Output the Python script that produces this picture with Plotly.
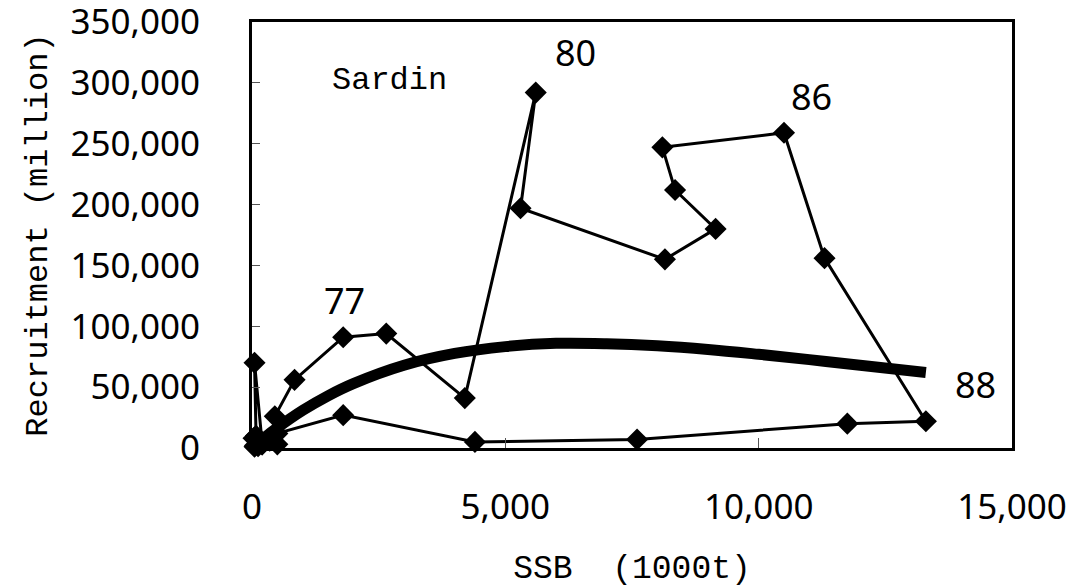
import plotly.graph_objects as go

# Stock-recruitment trajectory (SSB in 1000 t, recruitment in million)
ssb = [60, 30, 120, 200, 80, 50, 200, 350, 500, 450, 840, 1800, 2650, 4200, 5600,
       5300, 8150, 9150, 8350, 8100, 10500, 11300, 13300, 11750, 7600, 4400,
       1800, 500, 200, 50]
rec = [2000, 8000, 1500, 3000, 10000, 70000, 4000, 6000, 3000, 26000, 56000,
       91000, 94000, 41000, 292000, 197000, 155000, 180000, 212000, 247000,
       259000, 156000, 22000, 20000, 7000, 5000, 27000, 12000, 3000, 1000]

# Fitted stock-recruitment curve
curve_ssb = [0, 250, 500, 1000, 1500, 2000, 3000, 4000, 5000, 6000, 7000, 8000,
             9000, 10000, 11000, 12000, 13300]
curve_rec = [0, 8600, 16600, 30900, 42900, 52900, 68000, 77700, 83300, 86000,
             85700, 84000, 81000, 77000, 72600, 68000, 62000]

year_labels = ["77", "80", "86", "88"]
label_x = [1835, 6375, 11050, 14270]
label_y = [121600, 325300, 288400, 51800]

x_ticks = [0, 5000, 10000, 15000]
y_ticks = [0, 50000, 100000, 150000, 200000, 250000, 300000, 350000]
x_range = [0, 15000]
y_range = [0, 350000]

fig = go.Figure()
fig.add_trace(go.Scatter(x=curve_ssb, y=curve_rec, mode="lines",
                         line=dict(color="black", width=11, shape="spline"),
                         hoverinfo="skip", showlegend=False))
fig.add_trace(go.Scatter(x=ssb, y=rec, mode="lines+markers", cliponaxis=False,
                         line=dict(color="black", width=3),
                         marker=dict(symbol="diamond", size=17, color="black"),
                         showlegend=False))
# invisible trace to carry the overlay axes that draw the inner tick marks
fig.add_trace(go.Scatter(x=x_range, y=y_range, xaxis="x2", yaxis="y2", mode="markers",
                         marker=dict(opacity=0), hoverinfo="skip", showlegend=False))

for t, xx, yy in zip(year_labels, label_x, label_y):
    fig.add_annotation(x=xx, y=yy, xref="x", yref="y", text=t, showarrow=False,
                       font=dict(family="Noto Sans", size=36, color="black"))
fig.add_annotation(x=2723, y=302300, xref="x", yref="y", text="Sardin",
                   showarrow=False,
                   font=dict(family="Liberation Mono", size=32, color="black"))

fig.update_layout(
    width=1067, height=588, plot_bgcolor="white", paper_bgcolor="white",
    margin=dict(l=252, r=55, t=22, b=140),
    xaxis=dict(range=x_range, tickvals=x_ticks,
               ticktext=[f"{v:,}" for v in x_ticks], automargin=False,
               ticklabeloverflow="allow",
               showgrid=False, zeroline=False, showline=True, linecolor="black",
               linewidth=3, mirror=True, ticks="outside", ticklen=26,
               tickcolor="rgba(0,0,0,0)",
               tickfont=dict(family="Noto Sans", size=35, color="black"),
               title=dict(text="SSB  (1000t)", standoff=30,
                          font=dict(family="Liberation Mono", size=33, color="black"))),
    yaxis=dict(range=y_range, tickvals=y_ticks,
               ticktext=[f"{v:,}" for v in y_ticks], automargin=False,
               ticklabeloverflow="allow",
               showgrid=False, zeroline=False, showline=True, linecolor="black",
               linewidth=3, mirror=True, ticks="outside", ticklen=42,
               tickcolor="rgba(0,0,0,0)",
               tickfont=dict(family="Noto Sans", size=35, color="black"),
               title=dict(text="Recruitment (million)", standoff=14,
                          font=dict(family="Liberation Mono", size=32, color="black"))),
    xaxis2=dict(range=x_range, tickvals=x_ticks, overlaying="x", anchor="y2",
                showticklabels=False, showgrid=False, zeroline=False,
                ticks="inside", ticklen=10, tickcolor="#555", tickwidth=1),
    yaxis2=dict(range=y_range, tickvals=y_ticks, overlaying="y", anchor="x2",
                showticklabels=False, showgrid=False, zeroline=False,
                ticks="inside", ticklen=8, tickcolor="#555", tickwidth=1),
)

fig.write_html("out.html", config={"displayModeBar": False},
               post_script="document.body.style.margin='0';")
